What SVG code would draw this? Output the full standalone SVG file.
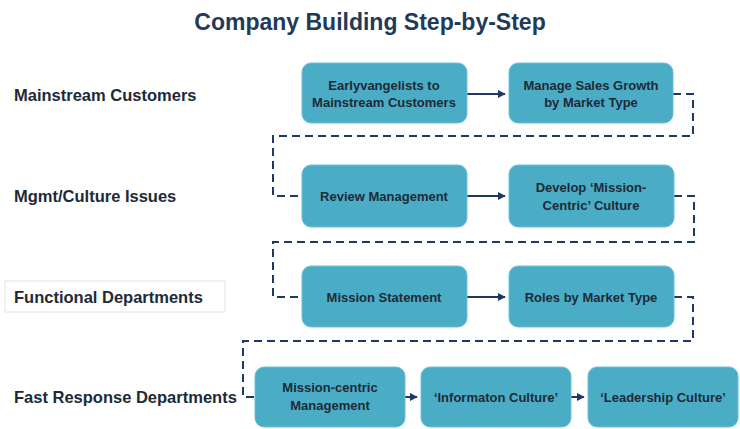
<svg xmlns="http://www.w3.org/2000/svg" width="740" height="429" viewBox="0 0 740 429">
<style>
.t{font-family:"Liberation Sans Narrow","Liberation Sans",Arial,sans-serif;font-weight:bold}
.box rect{fill:#4bacc6;stroke:#6fc0d6;stroke-width:1}
.box text{font-size:13px;fill:#1e2a36;text-anchor:middle}
.lab{font-size:16.5px;fill:#1e2a36}
.c{stroke:#1f3864;stroke-width:2;fill:none}
.d{stroke-dasharray:8 5}
</style>
<defs><marker id="a" viewBox="0 0 10 10" refX="9" refY="5" markerWidth="4" markerHeight="4" orient="auto"><path d="M0,0L10,5L0,10z" fill="#1f3864"/></marker></defs>
<rect width="740" height="429" fill="#fff"/>
<text class="t" x="370" y="30" font-size="23" fill="#1f3a5a" text-anchor="middle">Company Building Step-by-Step</text>
<text class="t lab" x="14" y="101">Mainstream Customers</text>
<text class="t lab" x="14" y="202">Mgmt/Culture Issues</text>
<rect x="5" y="281" width="220" height="31" fill="#fff" stroke="#e4e4e4"/>
<text class="t lab" x="14" y="303">Functional Departments</text>
<text class="t lab" x="14" y="403">Fast Response Departments</text>
<g id="connectors">
<path class="c" d="M467,94H505" marker-end="url(#a)"/>
<path class="c" d="M467,196H505" marker-end="url(#a)"/>
<path class="c" d="M467,297H505" marker-end="url(#a)"/>
<path class="c" d="M405,397H417" marker-end="url(#a)"/>
<path class="c" d="M571,397H584" marker-end="url(#a)"/>
<path class="c d" d="M673,94H693V136H273V196H302"/>
<path class="c d" d="M674,196H694V242H273V297H302"/>
<path class="c d" d="M674,297H693V341H243V397H255"/>
</g>
<g id="n1" class="box"><rect x="302" y="63" width="165" height="60" rx="9"/><text class="t" x="384" y="90">Earlyvangelists to</text><text class="t" x="384" y="107">Mainstream Customers</text></g>
<g id="n2" class="box"><rect x="509" y="63" width="164" height="60" rx="9"/><text class="t" x="591" y="90">Manage Sales Growth</text><text class="t" x="591" y="107">by Market Type</text></g>
<g id="n3" class="box"><rect x="302" y="165" width="165" height="62" rx="9"/><text class="t" x="384" y="201">Review Management</text></g>
<g id="n4" class="box"><rect x="509" y="165" width="165" height="62" rx="9"/><text class="t" x="591" y="192">Develop ‘Mission-</text><text class="t" x="591" y="210">Centric’ Culture</text></g>
<g id="n5" class="box"><rect x="302" y="266" width="165" height="61" rx="9"/><text class="t" x="384" y="302">Mission Statement</text></g>
<g id="n6" class="box"><rect x="509" y="266" width="165" height="61" rx="9"/><text class="t" x="591" y="302">Roles by Market Type</text></g>
<g id="n7" class="box"><rect x="255" y="367" width="150" height="60" rx="9"/><text class="t" x="330" y="392">Mission-centric</text><text class="t" x="330" y="410">Management</text></g>
<g id="n8" class="box"><rect x="421" y="367" width="150" height="60" rx="9"/><text class="t" x="496" y="402">‘Informaton Culture’</text></g>
<g id="n9" class="box"><rect x="588" y="367" width="150" height="60" rx="9"/><text class="t" x="663" y="402">‘Leadership Culture’</text></g>
</svg>
